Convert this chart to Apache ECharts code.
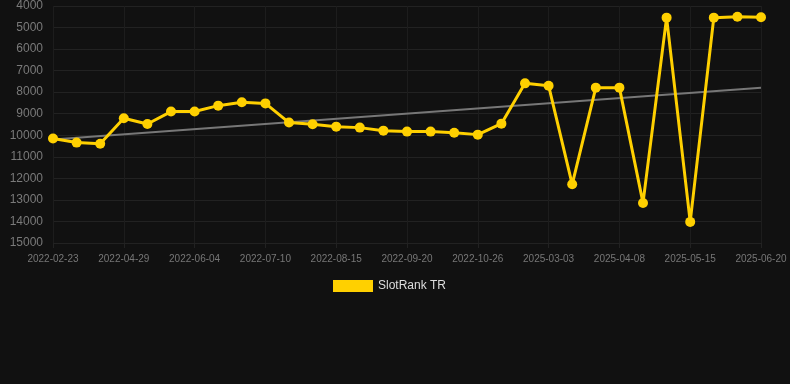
<!DOCTYPE html>
<html>
<head>
<meta charset="utf-8">
<script src="https://cdn.jsdelivr.net/npm/echarts@6/dist/echarts.min.js"></script>
<style>
  html, body { margin: 0; padding: 0; background: #111111; }
  #chart { width: 790px; height: 384px; }
</style>
</head>
<body>
<div id="chart"></div>
<script>
// dates on the x axis (only every third one is labelled)
var dates = [
  '2022-02-23', '2022-03-17', '2022-04-17', '2022-04-29', '2022-05-11', '2022-05-23',
  '2022-06-04', '2022-06-16', '2022-06-28', '2022-07-10', '2022-07-22', '2022-08-03',
  '2022-08-15', '2022-08-27', '2022-09-08', '2022-09-20', '2022-10-02', '2022-10-14',
  '2022-10-26', '2022-11-07', '2025-02-19', '2025-03-03', '2025-03-15', '2025-03-27',
  '2025-04-08', '2025-04-20', '2025-05-03', '2025-05-15', '2025-05-27', '2025-06-08',
  '2025-06-20'
]

// rank values
var rankTR = [
  10150, 10340, 10390, 9210, 9475, 8900,
  8900, 8625, 8470, 8520, 9410, 9490,
  9600, 9645, 9785, 9830, 9830, 9880,
  9970, 9460, 7590, 7700, 12275, 7790,
  7790, 13140, 4540, 14020, 4540, 4500,
  4520
]

// trend line ends (first and last category)
var trendStart = 10200
var trendEnd = 7790

var chart = echarts.init(document.getElementById('chart'))

var option = {
  backgroundColor: '#111111',
  animation: false,
  grid: {
    left: 53,
    right: 29,
    top: 6,
    bottom: 141
  },
  legend: {
    top: 275,
    left: 328,
    itemWidth: 40,
    itemHeight: 12,
    itemGap: 10,
    data: [{ name: 'SlotRank TR', icon: 'rect' }],
    textStyle: {
      color: '#dddddd',
      fontSize: 12,
      fontFamily: 'Liberation Sans, Arial, sans-serif'
    }
  },
  xAxis: {
    type: 'category',
    boundaryGap: false,
    data: dates,
    axisLine: { show: false },
    axisTick: {
      show: true,
      interval: 2,
      length: 5,
      lineStyle: { color: '#222222' }
    },
    axisLabel: {
      interval: 2,
      color: '#777777',
      fontSize: 10,
      margin: 11,
      fontFamily: 'Liberation Sans, Arial, sans-serif'
    },
    splitLine: {
      show: true,
      interval: 2,
      lineStyle: { color: '#1d1d1d' }
    }
  },
  yAxis: {
    type: 'value',
    inverse: true,
    min: 4000,
    max: 15000,
    interval: 1000,
    axisLine: { show: false },
    axisTick: { show: false },
    axisLabel: {
      color: '#7a7a7a',
      fontSize: 12,
      margin: 10,
      fontFamily: 'Liberation Sans, Arial, sans-serif',
      formatter: function (v) { return String(v) }
    },
    splitLine: {
      lineStyle: { color: '#222222' }
    }
  },
  series: [
    {
      name: 'Trend',
      type: 'line',
      data: [[0, trendStart], [dates.length - 1, trendEnd]],
      symbol: 'none',
      lineStyle: { color: '#777777', width: 2 },
      z: 1
    },
    {
      name: 'SlotRank TR',
      type: 'line',
      data: rankTR,
      symbol: 'circle',
      symbolSize: 10,
      itemStyle: { color: '#ffd000' },
      lineStyle: { color: '#ffd000', width: 3 },
      z: 2
    }
  ]
}

chart.setOption(option)
</script>
</body>
</html>
